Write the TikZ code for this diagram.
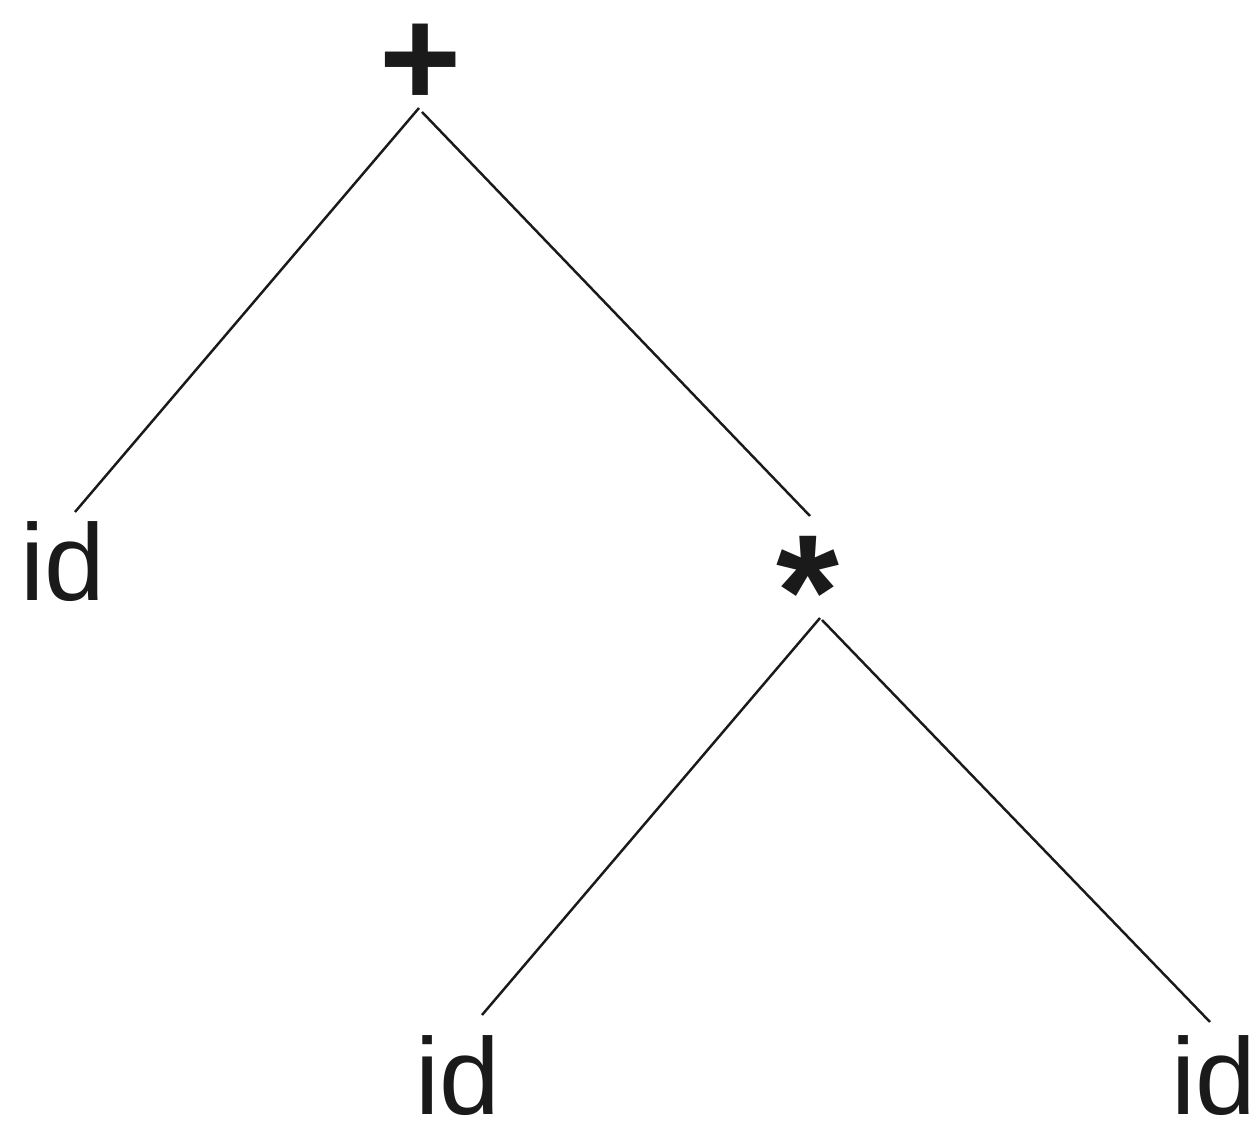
\documentclass[tikz,border=0pt]{standalone}
\usepackage{fontspec}
\setmainfont{Liberation Sans}
\usetikzlibrary{calc}
\definecolor{trInk}{HTML}{1A1A1A}
\tikzset{
  leaf/.style={inner sep=0pt, text=trInk, font=\fontsize{31}{31}\selectfont},
  oper/.style={inner sep=0pt, text=trInk, font=\bfseries\fontsize{40}{40}\selectfont},
  branch/.style={line width=0.7pt, draw=trInk},
}
\begin{document}
\begin{tikzpicture}[x=0.1mm, y=0.1mm]
  \useasboundingbox (0,0) rectangle (1254,1125);
  \node[oper] (plus) at (421,1060) {+};
  \node[leaf] (idl)  at (63,563)   {id};
  \node[oper, font=\bfseries\fontsize{46}{46}\selectfont] (star) at (808,533) {*};
  \node[leaf] (idb)  at (458,49)   {id};
  \node[leaf] (idr)  at (1214,49)  {id};
  % branches
  \draw[branch] ($(plus)+(-2,-43)$) -- ($(idl)+(12,50)$);
  \draw[branch] ($(plus)+(1,-47)$)  -- ($(star)+(2,76)$);
  \draw[branch] ($(star)+(12,-26)$) -- ($(idb)+(24,61)$);
  \draw[branch] ($(star)+(14,-28)$) -- ($(idr)+(-4,54)$);
\end{tikzpicture}
\end{document}
